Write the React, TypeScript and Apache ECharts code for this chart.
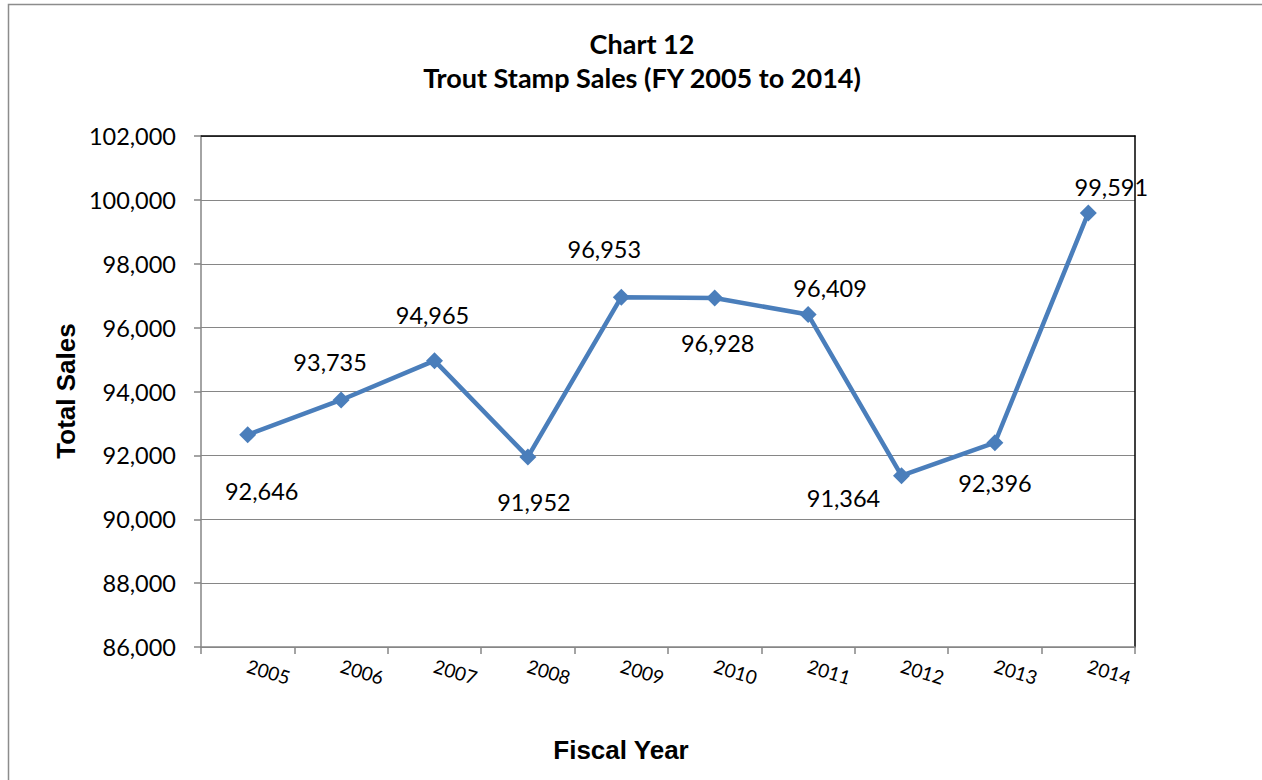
import React, { useEffect, useRef } from "react";
import * as echarts from "echarts";

const years = ["2005", "2006", "2007", "2008", "2009", "2010", "2011", "2012", "2013", "2014"];
const sales = [92646, 93735, 94965, 91952, 96953, 96928, 96409, 91364, 92396, 99591];
const labelOffsets: [number, number][] = [
  [14, 56], [-11, -38], [-2, -46], [6, 45], [-17, -48],
  [3, 45], [22, -27], [-58, 22], [0, 40], [23, -26],
];
const yMin = 86000;
const yMax = 102000;
const yStep = 2000;

const fmt = (v: number) => v.toLocaleString("en-US");

export default function App() {
  const ref = useRef<HTMLDivElement>(null);
  useEffect(() => {
    if (!ref.current) return;
    const chart = echarts.init(ref.current, undefined, { renderer: "svg" });
    const gridPos = { left: 201, top: 136, right: 127, bottom: 133 };
    chart.setOption({
      animation: false,
      backgroundColor: "#ffffff",
      title: {
        text: "Chart 12\nTrout Stamp Sales (FY 2005 to 2014)",
        left: 637,
        top: 21,
        textAlign: "center",
        textStyle: {
          fontFamily: "Lato",
          fontWeight: "bold",
          fontSize: 27,
          lineHeight: 34,
          color: "#000",
        },
      },
      grid: { ...gridPos, containLabel: false },
      xAxis: [
        {
          type: "category",
          data: years,
          boundaryGap: true,
          axisLine: { lineStyle: { color: "#868686", width: 1.5 } },
          axisTick: { show: true, alignWithLabel: false, length: 7, lineStyle: { color: "#868686", width: 1.5 } },
          axisLabel: {
            rotate: -17,
            margin: 18,
            fontFamily: "Lato",
            fontSize: 19,
            color: "#000",
          },
          splitLine: { show: false },
        },
        {
          type: "category",
          data: years,
          position: "top",
          axisLine: { lineStyle: { color: "#000", width: 1.5 } },
          axisTick: { show: false },
          axisLabel: { show: false },
        },
      ],
      yAxis: [
        {
          type: "value",
          min: yMin,
          max: yMax,
          interval: yStep,
          axisLine: { show: true, lineStyle: { color: "#868686", width: 1.5 } },
          axisTick: { show: true, length: 7, lineStyle: { color: "#868686", width: 1.5 } },
          axisLabel: {
            margin: 25,
            fontFamily: "Lato",
            fontSize: 23.5,
            color: "#000",
            formatter: (v: number) => fmt(v),
          },
          splitLine: { show: true, lineStyle: { color: "#868686", width: 1.2 } },
        },
        {
          type: "value",
          min: yMin,
          max: yMax,
          interval: yStep,
          position: "right",
          axisLine: { show: true, lineStyle: { color: "#000", width: 1.5 } },
          axisTick: { show: false },
          axisLabel: { show: false },
          splitLine: { show: false },
        },
      ],
      graphic: [
        {
          type: "rect",
          shape: { x: 8.5, y: 4.5, width: 1300, height: 900 },
          style: { fill: "none", stroke: "#8c8c8c", lineWidth: 1.5 },
          silent: true,
        },
        {
          type: "text",
          x: 66,
          y: 391,
          rotation: Math.PI / 2,
          style: {
            text: "Total Sales",
            fontFamily: "Liberation Sans",
            fontWeight: "bold",
            fontSize: 26,
            fill: "#000",
            align: "center",
            verticalAlign: "middle",
          },
        },
        {
          type: "text",
          x: 621,
          y: 750,
          style: {
            text: "Fiscal Year",
            fontFamily: "Liberation Sans",
            fontWeight: "bold",
            fontSize: 26,
            fill: "#000",
            align: "center",
            verticalAlign: "middle",
          },
        },
      ],
      series: [
        {
          type: "line",
          xAxisIndex: 0,
          yAxisIndex: 0,
          data: sales.map((v, i) => ({
            value: v,
            label: { offset: labelOffsets[i] },
          })),
          symbol: "diamond",
          symbolSize: 17,
          lineStyle: { color: "#4A7EBB", width: 4.5 },
          itemStyle: { color: "#4A7EBB" },
          label: {
            show: true,
            position: "inside",
            fontFamily: "Lato",
            fontSize: 23.5,
            color: "#000",
            formatter: (p: any) => fmt(p.value),
          },
        },
      ],
    });
    return () => chart.dispose();
  }, []);
  return (
    <div
      ref={ref}
      style={{ position: "fixed", left: 0, top: 0, width: 1262, height: 780 }}
    />
  );
}
